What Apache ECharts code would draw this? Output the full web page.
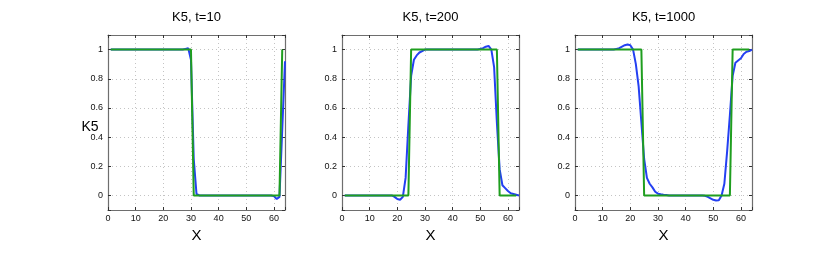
<!DOCTYPE html>
<html><head><meta charset="utf-8">
<script src="https://cdn.jsdelivr.net/npm/echarts@6/dist/echarts.min.js"></script>
<style>html,body{margin:0;padding:0;background:#fff}#c{width:830px;height:255px}</style>
</head><body><div id="c"></div>
<script>
// ---- data ----
const titles = ['K5, t=10', 'K5, t=200', 'K5, t=1000'];
const yLabel = 'K5';
const xLabel = 'X';
const xTicks = [0, 10, 20, 30, 40, 50, 60];
const yTicks = [0, 0.2, 0.4, 0.6, 0.8, 1];

// numerical solution (blue), x = 1..64
const blue10 = [1,1,1,1,1,1,1,1,1,1,1,1,1,1,1,1,1,1,1,1,1,1,1,1,1,1,1,
  1.005,1.01,0.93,0.25,0.01,
  0,0,0,0,0,0,0,0,0,0,0,0,0,0,0,0,0,0,0,0,0,0,0,0,0,0,0,
  -0.005,-0.025,-0.01,0.45,0.92];
const blue200 = [0,0,0,0,0,0,0,0,0,0,0,0,0,0,0,0,0,
  0,-0.01,-0.025,-0.03,-0.01,0.12,0.48,0.82,0.93,0.96,0.98,0.99,1,
  1,1,1,1,1,1,1,1,1,1,1,1,1,1,1,1,1,1,1,
  1.005,1.01,1.02,1.025,1,0.88,0.5,0.18,0.07,0.05,0.03,0.015,0.01,0.005,0];
const blue1000 = [1,1,1,1,1,1,1,1,1,1,1,1,1,1,
  1.005,1.01,1.02,1.03,1.035,1.03,1,0.9,0.75,0.5,0.25,0.12,0.08,0.055,0.025,0.012,0.008,0.005,0.003,
  0,0,0,0,0,0,0,0,0,0,0,0,0,
  -0.003,-0.01,-0.02,-0.03,-0.035,-0.033,0,0.08,0.3,0.55,0.82,0.91,0.925,0.94,0.97,0.985,0.99,1];
// exact solution (green), x = 1..63
const green10 = [1,1,1,1,1,1,1,1,1,1,1,1,1,1,1,1,1,1,1,1,1,1,1,1,1,1,1,1,1,1,
  0,0,0,0,0,0,0,0,0,0,0,0,0,0,0,0,0,0,0,0,0,0,0,0,0,0,0,0,0,0,0,0,
  1];
const green200 = [0,0,0,0,0,0,0,0,0,0,0,0,0,0,0,0,0,0,0,0,0,0,0,0,
  1,1,1,1,1,1,1,1,1,1,1,1,1,1,1,1,1,1,1,1,1,1,1,1,1,1,1,1,1,1,1,1,
  0,0,0,0,0,0,0];
const green1000 = [1,1,1,1,1,1,1,1,1,1,1,1,1,1,1,1,1,1,1,1,1,1,1,1,
  0,0,0,0,0,0,0,0,0,0,0,0,0,0,0,0,0,0,0,0,0,0,0,0,0,0,0,0,0,0,0,0,
  1,1,1,1,1,1,1];
const blueSets = [blue10, blue200, blue1000];
const greenSets = [green10, green200, green1000];

// ---- chart ----
const lefts = [108, 342, 575];
const W = 177, TOP = 35, H = 175;
const axisCol = '#6e6e6e';
const grids = [], xAxes = [], yAxes = [], series = [], titleArr = [];
const pairs = a => a.map((v, i) => [i + 1, v]);
const isTick = (list, v) => list.some(t => Math.abs(t - v) < 1e-6);

lefts.forEach((L, k) => {
  grids.push({left: L, top: TOP, width: W, height: H, containLabel: false, show: false});
  const base = {gridIndex: k, type: 'value', min: 0, max: 64, interval: 10};
  xAxes.push(Object.assign({}, base, {
    position: 'bottom',
    name: xLabel, nameLocation: 'middle', nameGap: 14,
    nameTextStyle: {fontFamily: 'Liberation Sans', fontSize: 15, color: '#000'},
    axisLine: {show: true, onZero: false, lineStyle: {color: axisCol, width: 1.2}},
    axisTick: {show: true, inside: true, length: 3, lineStyle: {color: '#333'}},
    axisLabel: {fontFamily: 'Liberation Sans', fontSize: 9, color: '#111', margin: 4,
      formatter: v => isTick(xTicks, v) ? String(v) : ''},
    splitLine: {show: true, lineStyle: {color: '#c4c4c4', type: [1, 3], width: 1}}
  }));
  xAxes.push(Object.assign({}, base, {
    position: 'top',
    axisLine: {show: true, onZero: false, lineStyle: {color: axisCol, width: 1.2}},
    axisTick: {show: true, inside: true, length: 3, lineStyle: {color: '#333'}},
    axisLabel: {show: false}, splitLine: {show: false}
  }));
  const ybase = {gridIndex: k, type: 'value', min: -0.1, max: 1.1, splitNumber: 6};
  yAxes.push(Object.assign({}, ybase, {
    position: 'left',
    axisLine: {show: true, onZero: false, lineStyle: {color: axisCol, width: 1.2}},
    axisTick: {show: true, inside: true, length: 3, lineStyle: {color: '#333'}},
    axisLabel: {fontFamily: 'Liberation Sans', fontSize: 9, color: '#111', margin: 5,
      formatter: v => isTick(yTicks, v) ? String(+v.toFixed(1)) : ''},
    splitLine: {show: true, lineStyle: {color: '#c4c4c4', type: [1, 3], width: 1}}
  }));
  yAxes.push(Object.assign({}, ybase, {
    position: 'right',
    axisLine: {show: true, onZero: false, lineStyle: {color: axisCol, width: 1.2}},
    axisTick: {show: true, inside: true, length: 3, lineStyle: {color: '#333'}},
    axisLabel: {show: false}, splitLine: {show: false}
  }));
  series.push({type: 'line', xAxisIndex: 2 * k, yAxisIndex: 2 * k, data: pairs(blueSets[k]),
    showSymbol: false, symbol: 'none', lineStyle: {color: '#2440f2', width: 2}, z: 3, animation: false});
  series.push({type: 'line', xAxisIndex: 2 * k, yAxisIndex: 2 * k, data: pairs(greenSets[k]),
    showSymbol: false, symbol: 'none', lineStyle: {color: '#1f9e1f', width: 2}, z: 4, animation: false});
  titleArr.push({text: titles[k], left: L + W / 2, top: 11, textAlign: 'center', padding: 0,
    textStyle: {fontFamily: 'Liberation Sans', fontSize: 13, fontWeight: 'normal', color: '#000'}});
});
titleArr.push({text: yLabel, left: 90, top: 120, textAlign: 'center', padding: 0,
  textStyle: {fontFamily: 'Liberation Sans', fontSize: 14, fontWeight: 'normal', color: '#000'}});

const chart = echarts.init(document.getElementById('c'), null, {renderer: 'canvas'});
chart.setOption({
  backgroundColor: '#fff', animation: false,
  title: titleArr, grid: grids, xAxis: xAxes, yAxis: yAxes, series: series
});
</script></body></html>
